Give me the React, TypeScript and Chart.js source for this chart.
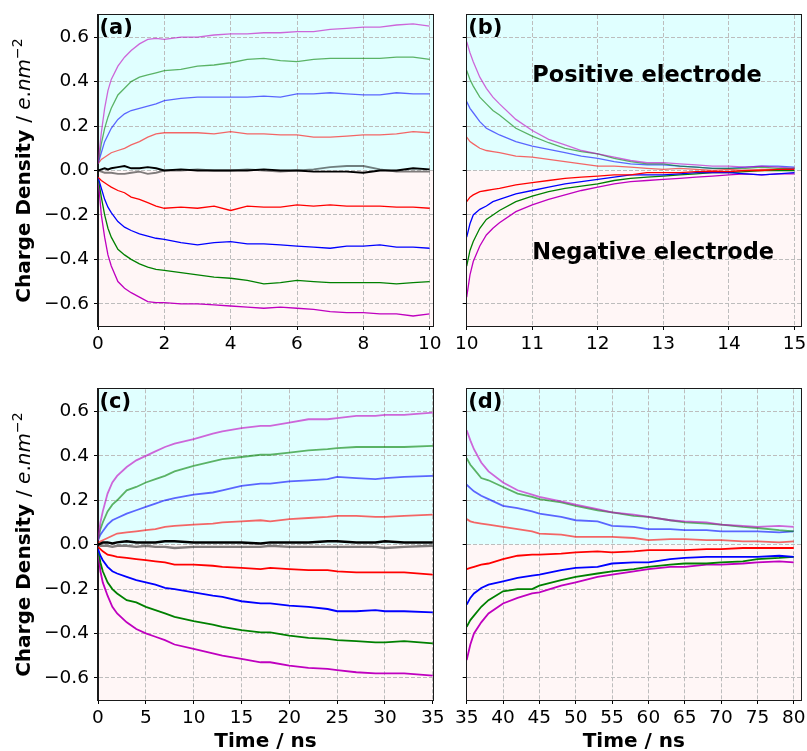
import React, { useEffect, useRef } from 'react';
import { Chart, registerables } from 'chart.js';

Chart.register(...registerables);
Chart.defaults.font.family = '"DejaVu Sans", sans-serif';

// ---------- tick values ----------
const Y_TICKS = [-0.6, -0.4, -0.2, 0, 0.2, 0.4, 0.6];
const A_X_TICKS = [0, 2, 4, 6, 8, 10];
const B_X_TICKS = [10, 11, 12, 13, 14, 15];
const C_X_TICKS = [0, 5, 10, 15, 20, 25, 30, 35];
const D_X_TICKS = [35, 40, 45, 50, 55, 60, 65, 70, 75, 80];

// ---------- panel (a) ----------
const A_T = [0, 0.1, 0.2, 0.3, 0.4, 0.6, 0.8, 1.0, 1.25, 1.5, 1.75, 2, 2.5, 3, 3.5, 4, 4.5, 5, 5.5, 6, 6.5, 7, 7.5, 8, 8.5, 9, 9.5, 10];
const A_M_POS = [0.03, 0.17, 0.28, 0.36, 0.41, 0.47, 0.51, 0.54, 0.57, 0.59, 0.595, 0.59, 0.6, 0.6, 0.61, 0.615, 0.615, 0.62, 0.62, 0.625, 0.625, 0.635, 0.64, 0.645, 0.645, 0.655, 0.66, 0.65];
const A_G_POS = [0.03, 0.12, 0.19, 0.24, 0.28, 0.34, 0.37, 0.4, 0.42, 0.43, 0.44, 0.45, 0.455, 0.47, 0.475, 0.485, 0.5, 0.505, 0.495, 0.49, 0.5, 0.505, 0.505, 0.505, 0.505, 0.51, 0.51, 0.5];
const A_B_POS = [0.03, 0.08, 0.13, 0.16, 0.19, 0.23, 0.255, 0.27, 0.28, 0.29, 0.3, 0.315, 0.325, 0.33, 0.33, 0.33, 0.33, 0.335, 0.33, 0.345, 0.345, 0.35, 0.345, 0.34, 0.34, 0.35, 0.345, 0.345];
const A_R_POS = [0.03, 0.05, 0.06, 0.07, 0.08, 0.09, 0.1, 0.115, 0.13, 0.15, 0.165, 0.17, 0.17, 0.17, 0.165, 0.175, 0.165, 0.165, 0.16, 0.16, 0.15, 0.15, 0.155, 0.16, 0.16, 0.165, 0.175, 0.17];
const A_BLACK = [0.0, 0.005, 0.01, 0.005, 0.01, 0.015, 0.02, 0.01, 0.01, 0.015, 0.01, 0.0, 0.005, 0.0, 0.0, 0.0, 0.0, 0.005, 0.0, 0.0, -0.005, -0.005, -0.005, -0.01, 0.0, 0.0, 0.01, 0.005];
const A_GRAY = [0.0, -0.005, -0.01, -0.01, -0.01, -0.015, -0.015, -0.01, -0.005, -0.015, -0.01, 0.0, 0.0, 0.005, 0.0, 0.0, 0.005, 0.0, -0.005, 0.0, 0.005, 0.015, 0.02, 0.02, 0.005, -0.005, -0.005, -0.005];
const A_R_NEG = [-0.03, -0.045, -0.055, -0.065, -0.075, -0.09, -0.1, -0.12, -0.13, -0.145, -0.16, -0.17, -0.165, -0.17, -0.16, -0.18, -0.16, -0.165, -0.165, -0.155, -0.16, -0.155, -0.16, -0.16, -0.16, -0.165, -0.165, -0.17];
const A_B_NEG = [-0.03, -0.08, -0.13, -0.165, -0.19, -0.23, -0.255, -0.27, -0.285, -0.295, -0.305, -0.31, -0.325, -0.335, -0.325, -0.32, -0.33, -0.33, -0.335, -0.34, -0.345, -0.35, -0.34, -0.34, -0.335, -0.345, -0.345, -0.35];
const A_G_NEG = [-0.03, -0.12, -0.2, -0.26, -0.3, -0.355, -0.38, -0.4, -0.42, -0.435, -0.445, -0.45, -0.46, -0.47, -0.48, -0.485, -0.495, -0.51, -0.505, -0.495, -0.5, -0.505, -0.505, -0.505, -0.505, -0.51, -0.505, -0.5];
const A_M_NEG = [-0.03, -0.2, -0.3, -0.38, -0.43, -0.5, -0.53, -0.55, -0.57, -0.59, -0.595, -0.595, -0.6, -0.6, -0.605, -0.61, -0.615, -0.62, -0.615, -0.62, -0.625, -0.635, -0.64, -0.64, -0.645, -0.645, -0.655, -0.645];

// ---------- panel (b) ----------
const B_T = [10, 10.05, 10.1, 10.2, 10.3, 10.4, 10.5, 10.75, 11, 11.25, 11.5, 11.75, 12, 12.25, 12.5, 12.75, 13, 13.25, 13.5, 13.75, 14, 14.25, 14.5, 14.75, 15];
const B_M_POS = [0.58, 0.53, 0.49, 0.42, 0.37, 0.33, 0.3, 0.23, 0.18, 0.14, 0.115, 0.09, 0.075, 0.06, 0.045, 0.035, 0.035, 0.03, 0.025, 0.02, 0.02, 0.015, 0.02, 0.015, 0.01];
const B_G_POS = [0.45, 0.41, 0.38, 0.33, 0.3, 0.27, 0.25, 0.19, 0.155, 0.125, 0.1, 0.085, 0.075, 0.055, 0.04, 0.03, 0.03, 0.02, 0.015, 0.01, 0.01, 0.01, 0.015, 0.01, 0.01];
const B_B_POS = [0.31, 0.28, 0.26, 0.22, 0.19, 0.175, 0.16, 0.13, 0.11, 0.095, 0.08, 0.065, 0.055, 0.04, 0.03, 0.025, 0.025, 0.02, 0.015, 0.01, 0.01, 0.015, 0.02, 0.02, 0.015];
const B_R_POS = [0.15, 0.13, 0.12, 0.1, 0.09, 0.085, 0.08, 0.065, 0.06, 0.05, 0.04, 0.03, 0.02, 0.02, 0.015, 0.01, 0.005, 0.01, 0.005, 0.0, 0.005, 0.0, 0.005, 0.005, 0.01];
const B_R_NEG = [-0.14, -0.12, -0.11, -0.095, -0.09, -0.085, -0.08, -0.065, -0.055, -0.045, -0.035, -0.03, -0.025, -0.02, -0.02, -0.01, -0.01, -0.01, -0.005, -0.005, -0.005, 0.0, 0.0, 0.005, 0.005];
const B_B_NEG = [-0.3, -0.24, -0.2, -0.175, -0.16, -0.14, -0.13, -0.105, -0.09, -0.075, -0.06, -0.05, -0.04, -0.03, -0.02, -0.02, -0.02, -0.015, -0.01, -0.01, -0.01, -0.015, -0.02, -0.015, -0.01];
const B_G_NEG = [-0.43, -0.36, -0.32, -0.26, -0.22, -0.2, -0.18, -0.14, -0.115, -0.095, -0.08, -0.07, -0.06, -0.045, -0.035, -0.03, -0.025, -0.02, -0.015, -0.01, -0.01, -0.005, 0.0, 0.0, 0.0];
const B_M_NEG = [-0.57, -0.47, -0.41, -0.34, -0.29, -0.26, -0.235, -0.185, -0.155, -0.13, -0.11, -0.09, -0.075, -0.06, -0.05, -0.045, -0.04, -0.035, -0.03, -0.025, -0.02, -0.015, -0.02, -0.015, -0.015];

// ---------- panel (c) ----------
const C_T = [0, 0.25, 0.5, 1, 1.5, 2, 3, 4, 5, 6, 7, 8, 10, 12, 13, 15, 17, 18, 20, 22, 24, 25, 27, 29, 30, 32, 35];
const C_M_POS = [0.02, 0.1, 0.15, 0.23, 0.28, 0.31, 0.35, 0.38, 0.4, 0.42, 0.44, 0.455, 0.475, 0.5, 0.51, 0.525, 0.535, 0.535, 0.55, 0.565, 0.565, 0.57, 0.58, 0.58, 0.585, 0.585, 0.595];
const C_G_POS = [0.02, 0.07, 0.1, 0.15, 0.18, 0.2, 0.245, 0.26, 0.28, 0.295, 0.31, 0.33, 0.355, 0.375, 0.385, 0.395, 0.405, 0.405, 0.415, 0.425, 0.43, 0.435, 0.44, 0.44, 0.44, 0.44, 0.445];
const C_B_POS = [0.02, 0.045, 0.06, 0.09, 0.11, 0.12, 0.14, 0.155, 0.17, 0.185, 0.2, 0.21, 0.225, 0.235, 0.245, 0.265, 0.275, 0.275, 0.285, 0.29, 0.295, 0.305, 0.3, 0.295, 0.3, 0.305, 0.31];
const C_R_POS = [0.01, 0.015, 0.02, 0.03, 0.04, 0.05, 0.055, 0.06, 0.065, 0.07, 0.08, 0.085, 0.09, 0.095, 0.1, 0.105, 0.11, 0.105, 0.115, 0.12, 0.125, 0.13, 0.13, 0.125, 0.125, 0.13, 0.135];
const C_BLACK = [0.0, 0.005, 0.01, 0.01, 0.005, 0.01, 0.015, 0.01, 0.01, 0.01, 0.015, 0.015, 0.01, 0.01, 0.01, 0.01, 0.005, 0.01, 0.01, 0.01, 0.015, 0.015, 0.01, 0.01, 0.015, 0.01, 0.01];
const C_GRAY = [0.0, -0.005, -0.005, -0.005, -0.01, -0.005, -0.005, -0.01, -0.005, -0.01, -0.01, -0.015, -0.01, -0.01, -0.01, -0.01, -0.01, -0.005, -0.01, -0.01, -0.01, -0.01, -0.01, -0.01, -0.015, -0.01, -0.005];
const C_R_NEG = [-0.01, -0.02, -0.03, -0.045, -0.05, -0.055, -0.06, -0.065, -0.07, -0.075, -0.08, -0.09, -0.09, -0.095, -0.1, -0.105, -0.11, -0.105, -0.11, -0.115, -0.115, -0.12, -0.125, -0.125, -0.125, -0.125, -0.135];
const C_B_NEG = [-0.02, -0.05, -0.07, -0.1, -0.12, -0.13, -0.145, -0.16, -0.17, -0.18, -0.195, -0.2, -0.215, -0.23, -0.235, -0.255, -0.265, -0.265, -0.275, -0.28, -0.29, -0.3, -0.3, -0.295, -0.3, -0.3, -0.305];
const C_G_NEG = [-0.02, -0.08, -0.12, -0.17, -0.2, -0.22, -0.25, -0.26, -0.28, -0.295, -0.31, -0.325, -0.345, -0.36, -0.37, -0.385, -0.395, -0.395, -0.41, -0.42, -0.425, -0.43, -0.435, -0.44, -0.44, -0.435, -0.445];
const C_M_NEG = [-0.02, -0.12, -0.17, -0.23, -0.28, -0.31, -0.35, -0.38, -0.4, -0.415, -0.43, -0.45, -0.47, -0.49, -0.5, -0.515, -0.53, -0.53, -0.545, -0.555, -0.56, -0.565, -0.575, -0.58, -0.58, -0.58, -0.59];

// ---------- panel (d) ----------
const D_T = [35, 35.5, 36, 37, 38, 40, 42, 44, 45, 48, 50, 53, 55, 58, 60, 63, 65, 68, 70, 73, 75, 78, 80];
const D_M_POS = [0.515, 0.47, 0.43, 0.37, 0.33, 0.28, 0.245, 0.225, 0.215, 0.195, 0.18, 0.16, 0.145, 0.135, 0.125, 0.11, 0.105, 0.1, 0.09, 0.085, 0.08, 0.085, 0.08];
const D_G_POS = [0.39, 0.36, 0.34, 0.3, 0.29, 0.26, 0.23, 0.215, 0.205, 0.19, 0.175, 0.155, 0.145, 0.13, 0.125, 0.11, 0.1, 0.095, 0.09, 0.08, 0.075, 0.065, 0.06];
const D_B_POS = [0.27, 0.255, 0.24, 0.22, 0.205, 0.175, 0.165, 0.15, 0.14, 0.125, 0.11, 0.105, 0.085, 0.08, 0.07, 0.07, 0.065, 0.065, 0.06, 0.06, 0.06, 0.055, 0.06];
const D_R_POS = [0.115, 0.105, 0.1, 0.095, 0.09, 0.08, 0.07, 0.06, 0.05, 0.045, 0.035, 0.035, 0.035, 0.03, 0.02, 0.025, 0.025, 0.02, 0.02, 0.015, 0.015, 0.01, 0.015];
const D_R_NEG = [-0.11, -0.105, -0.1, -0.09, -0.085, -0.065, -0.05, -0.045, -0.045, -0.04, -0.035, -0.03, -0.035, -0.03, -0.025, -0.025, -0.025, -0.02, -0.02, -0.015, -0.015, -0.015, -0.015];
const D_B_NEG = [-0.27, -0.24, -0.22, -0.195, -0.18, -0.165, -0.15, -0.14, -0.135, -0.115, -0.105, -0.1, -0.085, -0.08, -0.08, -0.065, -0.06, -0.055, -0.055, -0.055, -0.055, -0.05, -0.055];
const D_G_NEG = [-0.37, -0.34, -0.32, -0.28, -0.25, -0.21, -0.2, -0.2, -0.185, -0.16, -0.145, -0.13, -0.12, -0.11, -0.1, -0.09, -0.085, -0.085, -0.08, -0.075, -0.065, -0.06, -0.055];
const D_M_NEG = [-0.52, -0.45, -0.4, -0.35, -0.31, -0.265, -0.24, -0.22, -0.215, -0.185, -0.17, -0.145, -0.135, -0.12, -0.11, -0.1, -0.1, -0.09, -0.09, -0.085, -0.08, -0.075, -0.08];

// ---------- styles ----------
const POS_BG = '#e0ffff';
const NEG_BG = '#fff6f6';
const GRID = '#bdbdbd';
const M_POS = 'rgba(191,0,191,0.6)';
const G_POS = 'rgba(0,128,0,0.6)';
const B_POS = 'rgba(0,0,255,0.6)';
const R_POS = 'rgba(255,0,0,0.6)';
const M_NEG = '#bf00bf';
const G_NEG = '#008000';
const B_NEG = '#0000ff';
const R_NEG = '#ff0000';
const BLACK = '#000000';
const GRAY = 'rgba(0,0,0,0.5)';
const FONT = '"DejaVu Sans", sans-serif';

type Series = { y: number[]; color: string; thick?: boolean };
type Panel = {
  label: string;
  left: number; top: number; w: number; h: number;
  area: { l: number; t: number; r: number; b: number };
  xMin: number; xMax: number; xTicks: number[];
  yLabels: boolean; xTitle: boolean; lw: number;
  t: number[]; series: Series[];
  notes?: boolean;
};

const PANELS: Panel[] = [
  {
    label: '(a)', left: 0, top: 0, w: 455, h: 365,
    area: { l: 98, t: 15, r: 433, b: 326 },
    xMin: 0, xMax: 10.1, xTicks: A_X_TICKS, yLabels: true, xTitle: false, lw: 1.3,
    t: A_T,
    series: [
      { y: A_M_POS, color: M_POS }, { y: A_G_POS, color: G_POS }, { y: A_B_POS, color: B_POS }, { y: A_R_POS, color: R_POS },
      { y: A_GRAY, color: GRAY, thick: true }, { y: A_BLACK, color: BLACK, thick: true },
      { y: A_R_NEG, color: R_NEG }, { y: A_B_NEG, color: B_NEG }, { y: A_G_NEG, color: G_NEG }, { y: A_M_NEG, color: M_NEG },
    ],
  },
  {
    label: '(b)', left: 440, top: 0, w: 367, h: 365,
    area: { l: 26.7, t: 15, r: 361, b: 326 },
    xMin: 10, xMax: 15.1, xTicks: B_X_TICKS, yLabels: false, xTitle: false, lw: 1.3,
    t: B_T, notes: true,
    series: [
      { y: B_M_POS, color: M_POS }, { y: B_G_POS, color: G_POS }, { y: B_B_POS, color: B_POS }, { y: B_R_POS, color: R_POS },
      { y: B_R_NEG, color: R_NEG }, { y: B_B_NEG, color: B_NEG }, { y: B_G_NEG, color: G_NEG }, { y: B_M_NEG, color: M_NEG },
    ],
  },
  {
    label: '(c)', left: 0, top: 365, w: 455, h: 386,
    area: { l: 98, t: 24.3, r: 433, b: 335 },
    xMin: 0, xMax: 35.02, xTicks: C_X_TICKS, yLabels: true, xTitle: true, lw: 1.8,
    t: C_T,
    series: [
      { y: C_M_POS, color: M_POS }, { y: C_G_POS, color: G_POS }, { y: C_B_POS, color: B_POS }, { y: C_R_POS, color: R_POS },
      { y: C_GRAY, color: GRAY, thick: true }, { y: C_BLACK, color: BLACK, thick: true },
      { y: C_R_NEG, color: R_NEG }, { y: C_B_NEG, color: B_NEG }, { y: C_G_NEG, color: G_NEG }, { y: C_M_NEG, color: M_NEG },
    ],
  },
  {
    label: '(d)', left: 440, top: 365, w: 367, h: 386,
    area: { l: 26.7, t: 24.3, r: 361, b: 335 },
    xMin: 35, xMax: 81, xTicks: D_X_TICKS, yLabels: false, xTitle: true, lw: 1.8,
    t: D_T,
    series: [
      { y: D_M_POS, color: M_POS }, { y: D_G_POS, color: G_POS }, { y: D_B_POS, color: B_POS }, { y: D_R_POS, color: R_POS },
      { y: D_R_NEG, color: R_NEG }, { y: D_B_NEG, color: B_NEG }, { y: D_G_NEG, color: G_NEG }, { y: D_M_NEG, color: M_NEG },
    ],
  },
];

const fmtY = (v: number) => (Math.abs(v) < 1e-9 ? '0.0' : (v < 0 ? '\u2212' : '') + Math.abs(v).toFixed(1));

function makeDecor(p: Panel) {
  return {
    id: 'decor' + p.label,
    beforeDraw(chart: any) {
      const { ctx, chartArea: a, scales } = chart;
      const y0 = scales.y.getPixelForValue(0);
      ctx.save();
      ctx.fillStyle = POS_BG;
      ctx.fillRect(a.left, a.top, a.right - a.left, y0 - a.top);
      ctx.fillStyle = NEG_BG;
      ctx.fillRect(a.left, y0, a.right - a.left, a.bottom - y0);
      ctx.restore();
    },
    afterDraw(chart: any) {
      const { ctx, chartArea: a, scales } = chart;
      ctx.save();
      ctx.strokeStyle = '#1a1a1a';
      ctx.lineWidth = 1;
      ctx.strokeRect(Math.round(a.left) - 0.5, Math.round(a.top) - 0.5, Math.round(a.right - a.left) + 1, Math.round(a.bottom - a.top) + 1);
      ctx.fillStyle = '#000';
      ctx.textBaseline = 'alphabetic';
      ctx.textAlign = 'left';
      ctx.font = `bold 21px ${FONT}`;
      ctx.fillText(p.label, a.left + 1.5, a.top + 18.5);
      if (p.notes) {
        ctx.font = `bold 22.5px ${FONT}`;
        ctx.fillText('Positive electrode', scales.x.getPixelForValue(11), scales.y.getPixelForValue(0.4));
        ctx.fillText('Negative electrode', scales.x.getPixelForValue(11), scales.y.getPixelForValue(-0.4));
      }
      if (p.yLabels) {
        const parts = [
          { t: 'Charge Density ', f: `bold 20px ${FONT}`, dy: 0 },
          { t: '/ ', f: `20px ${FONT}`, dy: 0 },
          { t: 'e', f: `italic 20px ${FONT}`, dy: 0 },
          { t: '.', f: `20px ${FONT}`, dy: 0 },
          { t: 'nm', f: `italic 20px ${FONT}`, dy: 0 },
          { t: '\u22122', f: `14px ${FONT}`, dy: -8 },
        ];
        let total = 0;
        const widths = parts.map((pt) => {
          ctx.font = pt.f;
          const w = ctx.measureText(pt.t).width;
          total += w;
          return w;
        });
        ctx.translate(30, (a.top + a.bottom) / 2);
        ctx.rotate(-Math.PI / 2);
        let x = -total / 2;
        parts.forEach((pt, i) => {
          ctx.font = pt.f;
          ctx.fillText(pt.t, x, pt.dy);
          x += widths[i];
        });
      }
      ctx.restore();
    },
  };
}

function PanelChart({ p }: { p: Panel }) {
  const ref = useRef<HTMLCanvasElement>(null);
  useEffect(() => {
    if (!ref.current) return;
    const datasets = p.series.map((s) => ({
      data: p.t.map((x, i) => ({ x, y: s.y[i] })),
      borderColor: s.color,
      backgroundColor: s.color,
      borderWidth: s.thick ? p.lw + 0.6 : p.lw,
      pointRadius: 0,
      fill: false,
      tension: 0,
    }));
    const gridOpts = { color: GRID, lineWidth: 1, tickColor: '#000', tickLength: 4, tickWidth: 1, drawTicks: true };
    const borderOpts = { display: true, color: '#1a1a1a', width: 1, dash: [4, 2] };
    const chart = new Chart(ref.current, {
      type: 'line',
      data: { datasets },
      plugins: [makeDecor(p)],
      options: {
        animation: false,
        responsive: false,
        maintainAspectRatio: false,
        devicePixelRatio: 1,
        events: [],
        layout: { padding: { left: 0, top: p.area.t, right: p.w - p.area.r, bottom: 0 } },
        plugins: { legend: { display: false }, tooltip: { enabled: false }, title: { display: false } },
        scales: {
          x: {
            type: 'linear',
            min: p.xMin,
            max: p.xMax,
            afterBuildTicks: (s: any) => { s.ticks = p.xTicks.map((v) => ({ value: v })); },
            afterFit: (s: any) => { s.height = p.h - p.area.b; s.paddingLeft = 0; s.paddingRight = 0; },
            ticks: { color: '#000', font: { size: 18.5 }, padding: 3, maxRotation: 0, autoSkip: false, callback: (v: any) => String(v) },
            grid: gridOpts,
            border: borderOpts,
            title: { display: p.xTitle, text: 'Time / ns', color: '#000', font: { size: 20, weight: 'bold', lineHeight: 0.9 }, padding: { top: 0, bottom: 0 } },
          },
          y: {
            type: 'linear',
            min: -0.7,
            max: 0.7,
            afterBuildTicks: (s: any) => { s.ticks = Y_TICKS.map((v) => ({ value: v })); },
            afterFit: (s: any) => { s.width = p.area.l; s.paddingTop = 0; s.paddingBottom = 0; },
            ticks: { display: p.yLabels, color: '#000', font: { size: 18.5 }, padding: 5, callback: (v: any) => fmtY(Number(v)) },
            grid: gridOpts,
            border: borderOpts,
          },
        },
      } as any,
    });
    return () => chart.destroy();
  }, [p]);
  return (
    <canvas
      ref={ref}
      width={p.w}
      height={p.h}
      style={{ position: 'absolute', left: p.left, top: p.top, width: p.w, height: p.h }}
    />
  );
}

export default function App() {
  return (
    <div style={{ position: 'absolute', left: 0, top: 0, width: 807, height: 751, overflow: 'hidden', background: '#fff' }}>
      {PANELS.map((p) => (
        <PanelChart key={p.label} p={p} />
      ))}
    </div>
  );
}
